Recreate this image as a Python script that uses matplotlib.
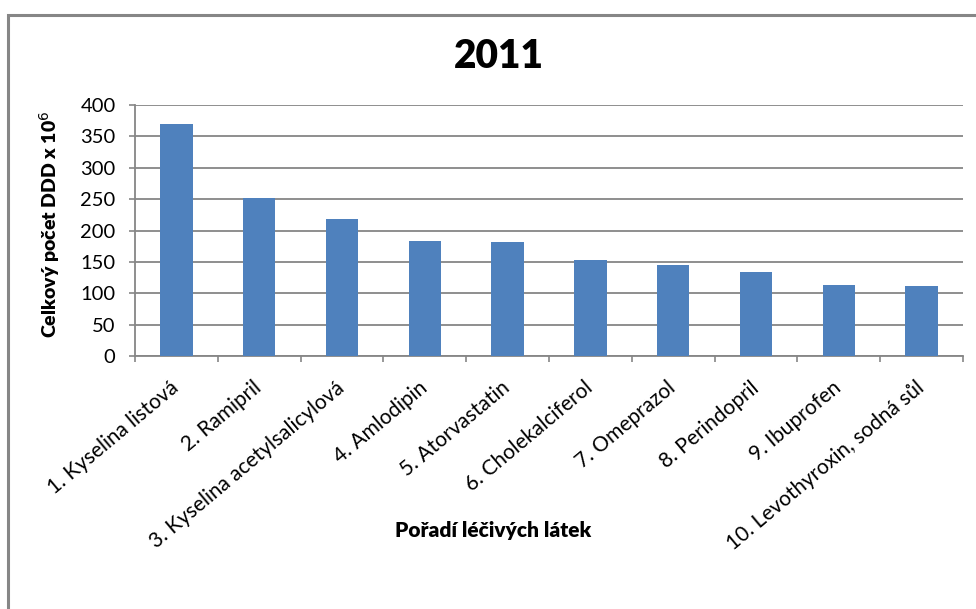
import numpy as np
import matplotlib.pyplot as plt
from matplotlib.patches import Rectangle

# data
labels = ["1. Kyselina listová", "2. Ramipril", "3. Kyselina acetylsalicylová",
          "4. Amlodipin", "5. Atorvastatin", "6. Cholekalciferol", "7. Omeprazol",
          "8. Perindopril", "9. Ibuprofen", "10. Levothyroxin, sodná sůl"]
values = [370, 251, 218, 183, 181, 153, 145, 134, 113, 111]
yticks = [0, 50, 100, 150, 200, 250, 300, 350, 400]

plt.rcParams['font.family'] = ['Lato', 'DejaVu Sans']
W, H = 976, 609
grey = "#868686"
blue = "#4f81bd"

fig = plt.figure(figsize=(W / 100, H / 100), dpi=100)

# chart border (only top and left visible in the crop)
fig.patches.append(Rectangle((8 / W, -0.1), 1.2, (H - 15) / H + 0.1,
                             transform=fig.transFigure, fill=False,
                             edgecolor=grey, linewidth=2.2))

ax = fig.add_axes([135 / W, (H - 356) / H, 828 / W, 251 / H])
x = np.arange(len(values))
ax.bar(x, values, width=0.39, color=blue, zorder=3)

ax.set_xlim(-0.5, len(values) - 0.5)
ax.set_ylim(0, 400)
ax.set_yticks(yticks)
ax.tick_params(axis='y', labelsize=14.5, length=4, color=grey, width=1.2, pad=10)
ax.yaxis.grid(True, color=grey, linewidth=1.3, zorder=0)

ax.set_xticks(x)
ax.set_xticklabels(labels, rotation=40, ha='right', va='center',
                   rotation_mode='anchor', fontsize=15)
ax.tick_params(axis='x', which='major', length=0, pad=21)
ax.set_xticks(np.arange(len(values) + 1) - 0.5, minor=True)
ax.tick_params(axis='x', which='minor', length=4, color=grey, width=1.2)

for s in ['top', 'right']:
    ax.spines[s].set_visible(False)
for s in ['left', 'bottom']:
    ax.spines[s].set_color(grey)
    ax.spines[s].set_linewidth(1.3)

fig.text(499 / W, 1 - 56 / H, "2011", ha='center', va='center',
         fontsize=28, fontweight='heavy')
fig.text(50 / W, 1 - 224 / H, "Celkový počet DDD x 10$^6$", rotation=90,
         ha='center', va='center', fontsize=14, fontweight='heavy')
fig.text(493 / W, 1 - 530 / H, "Pořadí léčivých látek", ha='center',
         va='center', fontsize=15, fontweight='heavy')

fig.savefig("out.png", dpi=100)
